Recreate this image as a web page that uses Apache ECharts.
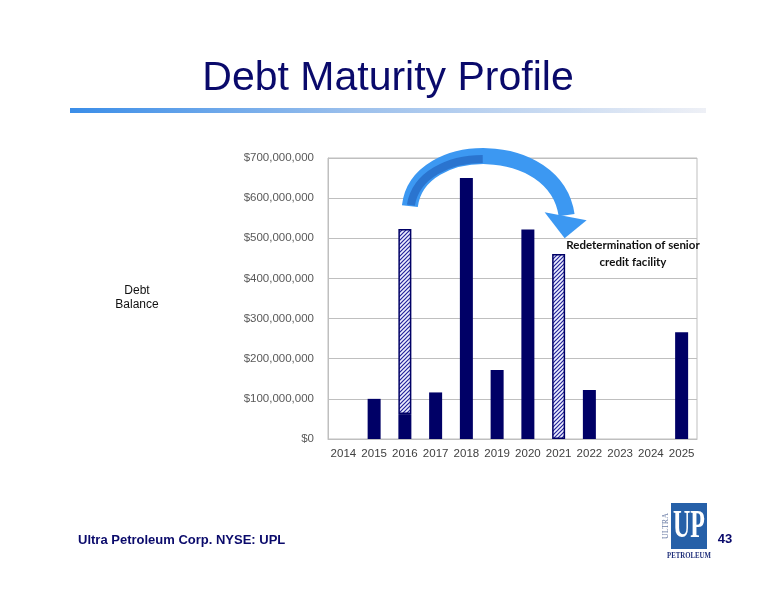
<!DOCTYPE html>
<html>
<head>
<meta charset="utf-8">
<script src="https://cdn.jsdelivr.net/npm/echarts@6/dist/echarts.min.js"></script>
<style>
html,body{margin:0;padding:0;background:#fff;}
#chart{width:776px;height:600px;}
</style>
</head>
<body>
<div id="chart"></div>
<script>
// ---- Data ----
const years = ['2014','2015','2016','2017','2018','2019','2020','2021','2022','2023','2024','2025'];
const maturities = [0, 100e6, 62e6, 116e6, 650e6, 172e6, 522e6, 0, 122e6, 0, 0, 266e6];
const creditFacility = [null, null, 461e6, null, null, null, null, 461e6, null, null, null, null];
const yTicks = [0, 100e6, 200e6, 300e6, 400e6, 500e6, 600e6, 700e6];
const titleText = 'Debt Maturity Profile';
const annotationLines = ['Redetermination of senior', 'credit facility'];
const yName = 'Debt\nBalance';
const footerText = 'Ultra Petroleum Corp. NYSE: UPL';
const pageNo = '43';

const NAVY = '#000066';

// hatched pattern
function makeHatch() {
  const c = document.createElement('canvas');
  c.width = 4; c.height = 4;
  const g = c.getContext('2d');
  g.fillStyle = '#eef0ff';
  g.fillRect(0,0,4,4);
  g.strokeStyle = '#23239a';
  g.lineWidth = 1.2;
  g.beginPath();
  g.moveTo(-1,5); g.lineTo(5,-1);
  g.moveTo(-1,1); g.lineTo(1,-1);
  g.moveTo(3,5); g.lineTo(5,3);
  g.stroke();
  return c;
}

function fmtMoney(v) {
  if (v === 0) return '$0';
  return '$' + String(Math.round(v)).replace(/\B(?=(\d{3})+(?!\d))/g, ',');
}

const chart = echarts.init(document.getElementById('chart'), null, {renderer:'canvas'});

const option = {
  animation: false,
  backgroundColor: '#ffffff',
  grid: {left: 328, right: 79, top: 158, bottom: 161, show: true, borderColor: '#bfbfbf', borderWidth: 1, backgroundColor: 'transparent'},
  xAxis: {
    type: 'category',
    data: years,
    axisLine: {show: true, lineStyle: {color: '#bfbfbf', width: 1}},
    axisTick: {show: false},
    axisLabel: {color: '#404040', fontFamily: 'Liberation Sans, Arial, sans-serif', fontSize: 11.5, margin: 9, interval: 0}
  },
  yAxis: {
    type: 'value',
    min: yTicks[0],
    max: yTicks[yTicks.length-1],
    interval: yTicks[1] - yTicks[0],
    axisLine: {show: true, lineStyle: {color: '#bfbfbf'}},
    axisTick: {show: false},
    splitLine: {show: true, lineStyle: {color: '#bfbfbf', width: 1}},
    axisLabel: {color: '#595959', fontFamily: 'Liberation Sans, Arial, sans-serif', fontSize: 11.5, margin: 14, formatter: fmtMoney}
  },
  series: [
    {
      name: 'Maturities',
      type: 'bar',
      stack: 'debt',
      data: maturities,
      barWidth: 13,
      itemStyle: {color: NAVY}
    },
    {
      name: 'Senior credit facility',
      type: 'bar',
      stack: 'debt',
      data: creditFacility,
      barWidth: 13,
      itemStyle: {color: {image: makeHatch(), repeat: 'repeat'}, borderColor: NAVY, borderWidth: 1.5}
    }
  ]
};
chart.setOption(option);

function px(cat, val) {
  return chart.convertToPixel({xAxisIndex: 0, yAxisIndex: 0}, [cat, val]);
}

const tailPt = px('2016', 580e6);
const headBase = px('2021', 560e6);
const tipPt = px('2021', 500e6);
const topPt = px('2016', 700e6);
const topY = topPt[1] - 20;
const x16 = tailPt[0], x21 = headBase[0];

const shaft = {
  x1: x16 + 5, y1: tailPt[1],
  cpx1: x16 + 13, cpy1: topY,
  cpx2: x21 - 3, cpy2: topY,
  x2: x21 + 8, y2: headBase[1] + 1
};

chart.setOption({
  graphic: [
    // title
    {type: 'text', left: 'center', top: 58, style: {text: titleText, fill: '#0a0a6b', font: '41px "Liberation Sans", Arial, sans-serif'}},
    // gradient rule
    {type: 'rect', shape: {x: 70, y: 108, width: 636, height: 5},
      style: {fill: new echarts.graphic.LinearGradient(0,0,1,0,[
        {offset: 0, color: '#3a8de8'}, {offset: 0.45, color: '#9cc0ec'}, {offset: 1, color: '#eef0f6'}])}},
    // y name
    {type: 'text', x: 137, y: 298, style: {text: yName, fill: '#111', align: 'center', verticalAlign: 'middle', lineHeight: 14, font: '12px "Liberation Sans", Arial, sans-serif'}},
    // arrow shaft
    {type: 'bezierCurve', shape: shaft, style: {stroke: '#3c98f2', lineWidth: 16, fill: null, lineCap: 'butt'}, z: 10},
    {type: 'bezierCurve', shape: Object.assign({percent: 0.48}, {
        x1: shaft.x1 + 1, y1: shaft.y1 - 1, cpx1: shaft.cpx1 + 3, cpy1: shaft.cpy1 + 4,
        cpx2: shaft.cpx2 - 3, cpy2: shaft.cpy2 + 4, x2: shaft.x2 - 2, y2: shaft.y2}),
      style: {stroke: '#2a74cf', lineWidth: 8, fill: null, lineCap: 'butt'}, z: 11},
    // arrowhead
    {type: 'polygon', shape: {points: [[x21 - 14, headBase[1] - 2], [x21 + 28, headBase[1] + 6], [x21 + 6, tipPt[1]]]},
      style: {fill: '#3c98f2'}, z: 10},
    // annotation
    {type: 'text', x: 633, y: 245, style: {text: annotationLines[0], fill: '#111', align: 'center', verticalAlign: 'middle', font: 'bold 11.5px Lato, "Open Sans", sans-serif'}, z: 12},
    {type: 'text', x: 633, y: 262, style: {text: annotationLines[1], fill: '#111', align: 'center', verticalAlign: 'middle', font: 'bold 11.5px Lato, "Open Sans", sans-serif'}, z: 12},
    // footer
    {type: 'text', x: 78, y: 540, style: {text: footerText, fill: '#0a0a6b', align: 'left', verticalAlign: 'middle', font: 'bold 13px "Liberation Sans", Arial, sans-serif'}},
    {type: 'text', x: 725, y: 539, style: {text: pageNo, fill: '#0a0a6b', align: 'center', verticalAlign: 'middle', font: 'bold 13px "Liberation Sans", Arial, sans-serif'}},
    // logo
    {type: 'rect', shape: {x: 671, y: 503, width: 36, height: 46}, style: {fill: '#2660a8'}},
    {type: 'text', x: 689, y: 527, scaleX: 0.6, style: {text: 'UP', fill: '#ffffff', align: 'center', verticalAlign: 'middle', font: 'bold 40px "Liberation Serif", "DejaVu Serif", serif'}},
    {type: 'text', x: 666, y: 526, rotation: Math.PI/2, style: {text: 'ULTRA', fill: '#6b7da6', align: 'center', verticalAlign: 'middle', font: '8px "Liberation Serif", serif'}},
    {type: 'text', x: 689, y: 556, scaleX: 0.85, style: {text: 'PETROLEUM', fill: '#1f2f7a', align: 'center', verticalAlign: 'middle', font: 'bold 8px "Liberation Serif", serif'}}
  ]
});
</script>
</body>
</html>
